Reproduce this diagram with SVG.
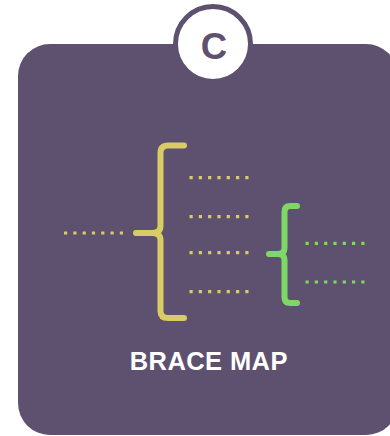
<svg xmlns="http://www.w3.org/2000/svg" width="390" height="436" viewBox="0 0 390 436">
<style>
.brace{fill:none;stroke-width:6;stroke-linecap:round;stroke-linejoin:round}
.dots{fill:none;stroke-width:3.2;stroke-dasharray:3.2 6.1}
.y{stroke:#d9cb66}
.g{stroke:#7dd866}
</style>
<rect width="390" height="436" fill="#ffffff"/>
<g id="card">
<rect x="18" y="44" width="380" height="391" rx="32" fill="#5e506f"/>
</g>
<g id="badge">
<circle cx="213" cy="44" r="37.5" fill="#ffffff" stroke="#5e506f" stroke-width="5"/>
<text x="214" y="58.5" text-anchor="middle" font-family="Liberation Sans, Arial, sans-serif" font-weight="bold" font-size="36.5" fill="#5e506f">C</text>
</g>
<g id="main-brace">
<path class="brace y" d="M184,145.5 L168,145.5 Q160.5,145.5 160.5,153 L160.5,226 Q160.5,233 152,233 L136,233 L152,233 Q160.5,233 160.5,240 L160.5,311 Q160.5,318 168,318 L184,318"/>
</g>
<g id="sub-brace">
<path class="brace g" d="M297,206 L290,206 Q284.5,206 284.5,212 L284.5,248 Q284.5,254 278,254 L269,254 L278,254 Q284.5,254 284.5,260 L284.5,297 Q284.5,303 290,303 L297,303"/>
</g>
<g id="connectors">
<line class="dots y" x1="64" y1="233" x2="126" y2="233"/>
<line class="dots y" x1="189.5" y1="177.7" x2="251" y2="177.7"/>
<line class="dots y" x1="189.5" y1="216.7" x2="251" y2="216.7"/>
<line class="dots y" x1="189.5" y1="252.7" x2="251" y2="252.7"/>
<line class="dots y" x1="189.5" y1="291.7" x2="251" y2="291.7"/>
<line class="dots g" x1="305.5" y1="243.3" x2="367" y2="243.3"/>
<line class="dots g" x1="305.5" y1="282" x2="367" y2="282"/>
</g>
<g id="title">
<text x="208.8" y="369.5" text-anchor="middle" font-family="Liberation Sans, Arial, sans-serif" font-weight="bold" font-size="25.5" letter-spacing="0.4" fill="#ffffff">BRACE MAP</text>
</g>
</svg>
